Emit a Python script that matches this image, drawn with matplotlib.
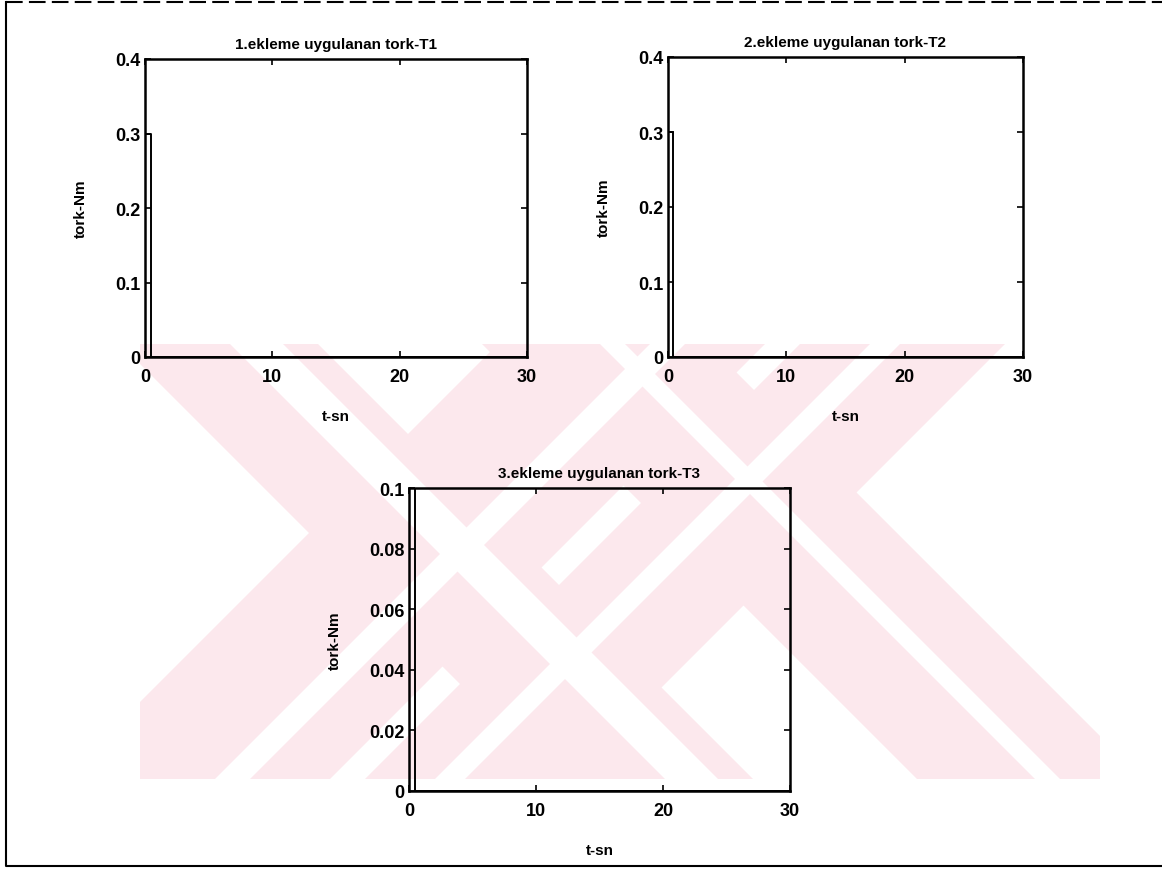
import matplotlib.pyplot as plt
from matplotlib.patches import Polygon, Rectangle

plt.rcParams['font.family'] = ['Liberation Sans', 'DejaVu Sans']
plt.rcParams['font.weight'] = 'bold'

# torque pulses applied at each joint
t1 = [0, 0, 0.45, 0.45, 30]
T1 = [0, 0.3, 0.3, 0, 0]
t2 = [0, 0, 0.45, 0.45, 30]
T2 = [0, 0.3, 0.3, 0, 0]
t3 = [0, 0, 0.45, 0.45, 30]
T3 = [0, 0.1, 0.1, 0, 0]

titles = ['1.ekleme uygulanan tork-T1', '2.ekleme uygulanan tork-T2',
          '3.ekleme uygulanan tork-T3']
xticks = [0, 10, 20, 30]
yticks12 = [0, 0.1, 0.2, 0.3, 0.4]
yticks3 = [0, 0.02, 0.04, 0.06, 0.08, 0.1]
ytl12 = ['0', '0.1', '0.2', '0.3', '0.4']
ytl3 = ['0', '0.02', '0.04', '0.06', '0.08', '0.1']

W, H = 1162, 870
fig = plt.figure(figsize=(W / 100, H / 100), dpi=100)
fig.set_facecolor('white')


def box(l, r, t, b):
    return [l / W, 1 - b / H, (r - l) / W, (b - t) / H]


# background layer for the pink emblem and the page frame
bg = fig.add_axes([0, 0, 1, 1], zorder=-5)
bg.set_xlim(0, W)
bg.set_ylim(H, 0)
bg.axis('off')

pink = '#fce8ed'
y0, y1 = 345, 780


def band(c_a, c_b, sgn, col):
    # 45 degree stripe between x-offsets c_a and c_b measured at y0
    h = y1 - y0
    pts = [(c_a, y0), (c_b, y0), (c_b + sgn * h, y1), (c_a + sgn * h, y1)]
    bg.add_patch(Polygon(pts, closed=True, fc=col, ec='none'))


# two crossed ribbons, each with a white line running through it
for ca, cb in [(120, 318), (482, 708)]:
    band(ca, cb, 1, pink)
for ca, cb in [(498, 765), (800, 1005)]:
    band(ca, cb, -1, pink)
for ca, cb in [(230, 283), (600, 625)]:
    band(ca, cb, 1, 'white')
for ca, cb in [(650, 685), (870, 900)]:
    band(ca, cb, -1, 'white')
bg.add_patch(Rectangle((0, 0), 140, H, fc='white', ec='none'))
bg.add_patch(Rectangle((1100, 0), W - 1100, H, fc='white', ec='none'))

bg.plot([6, 6, W], [3, 867, 867], color='black', lw=1.5)
bg.plot([6, W], [3, 3], color='black', lw=1.5, linestyle=(0, (8, 3)))


def draw(pos, t, T, ttl, ymax, yt, ytl):
    ax = fig.add_axes(pos)
    ax.set_facecolor('none')
    ax.plot(t, T, color='black', lw=1.4)
    ax.set_xlim(0, 30)
    ax.set_ylim(0, ymax)
    ax.set_xticks(xticks)
    ax.set_yticks(yt)
    ax.set_yticklabels(ytl)
    ax.tick_params(direction='in', length=4, width=1.2, top=True, right=True,
                   labelsize=13)
    ax.tick_params(axis='x', pad=8)
    ax.tick_params(axis='y', pad=3)
    for s in ax.spines.values():
        s.set_linewidth(1.8)
    ax.set_title(ttl, fontsize=11, fontweight='bold', pad=8)
    ax.set_xlabel('t-sn', fontsize=11, fontweight='bold', labelpad=17)
    ax.set_ylabel('tork-Nm', fontsize=11, fontweight='bold', labelpad=20)
    return ax


draw(box(145, 527, 60, 358), t1, T1, titles[0], 0.4, yticks12, ytl12)
draw(box(668, 1023, 58, 358), t2, T2, titles[1], 0.4, yticks12, ytl12)
draw(box(409, 790, 489, 792), t3, T3, titles[2], 0.1, yticks3, ytl3)

fig.savefig('out.png', dpi=100)
